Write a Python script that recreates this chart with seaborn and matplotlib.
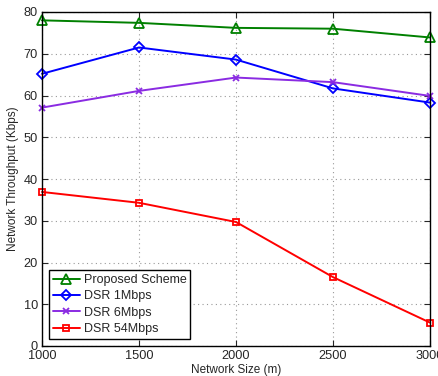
import numpy as np
import pandas as pd
import matplotlib
matplotlib.use("Agg")
import matplotlib.pyplot as plt
import seaborn as sns

network_size = [1000, 1500, 2000, 2500, 3000]
proposed = [78.0, 77.4, 76.2, 76.0, 73.9]
dsr_1mbps = [65.2, 71.5, 68.6, 61.7, 58.3]
dsr_6mbps = [57.1, 61.1, 64.3, 63.2, 59.9]
dsr_54mbps = [36.9, 34.3, 29.7, 16.5, 5.6]

series_names = ["Proposed Scheme", "DSR 1Mbps", "DSR 6Mbps", "DSR 54Mbps"]
series_values = [proposed, dsr_1mbps, dsr_6mbps, dsr_54mbps]
colors = ["#008000", "#0000ff", "#8a2be2", "#ff0000"]
markers = ["^", "D", "x", "s"]
marker_sizes = [6.5, 5.5, 4, 5]

sns.set_style("ticks")
plt.rcParams["font.family"] = ["Liberation Sans", "DejaVu Sans"]

fig = plt.figure(figsize=(4.38, 3.76), dpi=100)
ax = fig.add_axes([42 / 438, 30 / 376, 388 / 438, 334 / 376])

for name, vals, c, m, ms in zip(series_names, series_values, colors, markers, marker_sizes):
    df = pd.DataFrame({"size": network_size, "thr": vals})
    sns.lineplot(data=df, x="size", y="thr", ax=ax, color=c, marker=m,
                 markersize=ms, markerfacecolor="none", markeredgecolor=c,
                 markeredgewidth=1.3, linewidth=1.4, label=name, clip_on=False)

ax.set_xlim(1000, 3000)
ax.set_ylim(0, 80)
ax.set_xticks(network_size)
ax.set_yticks(range(0, 81, 10))
ax.grid(True, linestyle=(0, (1, 3)), color="#999999", linewidth=0.8)
ax.tick_params(direction="in", top=True, right=True, labelsize=9.2, length=4,
               width=0.8, pad=3)
for s in ax.spines.values():
    s.set_linewidth(1.0)
    s.set_color("black")
ax.set_xlabel("Network Size (m)", fontsize=8.5, labelpad=1)
ax.set_ylabel("Network Throughput (Kbps)", fontsize=8.5, labelpad=3)

leg = ax.legend(loc="lower left", fontsize=9, frameon=True, fancybox=False,
                edgecolor="black", framealpha=1, borderpad=0.3, labelspacing=0.35,
                handlelength=2.2, handletextpad=0.3, borderaxespad=0,
                bbox_to_anchor=(0.018, 0.021))
leg.get_frame().set_linewidth(1.0)

fig.savefig("out.png", dpi=100)
